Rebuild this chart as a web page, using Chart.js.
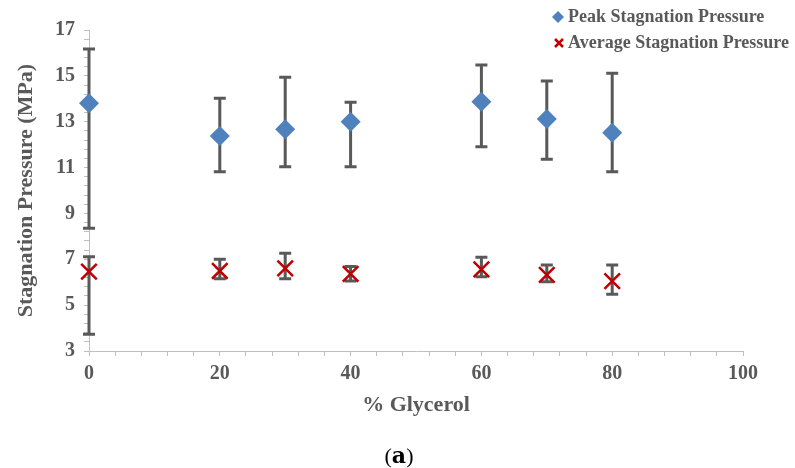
<!DOCTYPE html>
<html>
<head>
<meta charset="utf-8">
<script src="https://cdn.jsdelivr.net/npm/chart.js@4.4.0/dist/chart.umd.min.js"></script>
<style>
  html, body { margin: 0; padding: 0; background: #fff; }
  #wrap { width: 795px; height: 468px; }
</style>
</head>
<body>
<div id="wrap"><canvas id="pressureChart" width="795" height="468"></canvas></div>
<script>
// % glycerol in the mixture
const glycerol = [0, 20, 30, 40, 60, 70, 80];

// Peak stagnation pressure (MPa) with error bar limits
const peakMean = [13.8, 12.38, 12.67, 13.0, 13.87, 13.12, 12.52];
const peakLow = [8.35, 10.82, 11.04, 11.04, 11.91, 11.36, 10.82];
const peakHigh = [16.17, 14.02, 14.94, 13.85, 15.47, 14.78, 15.11];

// Average stagnation pressure (MPa) with error bar limits
const avgMean = [6.46, 6.49, 6.6, 6.36, 6.56, 6.32, 6.05];
const avgLow = [3.73, 6.15, 6.15, 6.05, 6.24, 6.02, 5.47];
const avgHigh = [7.11, 7.0, 7.26, 6.68, 7.09, 6.75, 6.75];

// axis ranges: labelled every major step, minor tick marks in between
const xRange = [0, 100], xMajor = 20, xMinor = 4;
const yRange = [3, 17], yMajor = 2, yMinor = 0.4;

const textGray = '#595959';
const lineGray = '#bfbfbf';
const serif = "'Liberation Serif', 'Times New Roman', serif";

function tickList(range, step) {
  const out = [];
  const n = Math.round((range[1] - range[0]) / step);
  for (let i = 0; i <= n; i++) out.push({ value: +(range[0] + i * step).toFixed(4) });
  return out;
}

function isMajor(v, range, major) {
  const k = (v - range[0]) / major;
  return Math.abs(k - Math.round(k)) < 1e-6;
}

// vertical error bars with caps, drawn under the markers
const errorBars = {
  id: 'errorBars',
  beforeDatasetsDraw(chart) {
    const { ctx, scales: { x, y } } = chart;
    const sets = [[peakLow, peakHigh], [avgLow, avgHigh]];
    ctx.save();
    ctx.strokeStyle = textGray;
    ctx.lineWidth = 3;
    ctx.lineCap = 'butt';
    sets.forEach(([lo, hi]) => {
      glycerol.forEach((g, i) => {
        const px = x.getPixelForValue(g);
        const y1 = y.getPixelForValue(lo[i]);
        const y2 = y.getPixelForValue(hi[i]);
        ctx.beginPath();
        ctx.moveTo(px, y1); ctx.lineTo(px, y2);
        ctx.moveTo(px - 6, y1); ctx.lineTo(px + 6, y1);
        ctx.moveTo(px - 6, y2); ctx.lineTo(px + 6, y2);
        ctx.stroke();
      });
    });
    ctx.restore();
  }
};

// legend box at the top right and the panel label underneath
const extras = {
  id: 'extras',
  afterDraw(chart) {
    const { ctx } = chart;
    ctx.save();
    ctx.font = 'bold 18px ' + serif;
    ctx.fillStyle = textGray;
    ctx.textBaseline = 'middle';
    ctx.textAlign = 'left';

    // diamond
    const d = chart.data.datasets[0];
    ctx.fillStyle = d.backgroundColor;
    ctx.beginPath();
    ctx.moveTo(558, 11); ctx.lineTo(564, 17); ctx.lineTo(558, 23); ctx.lineTo(552, 17);
    ctx.closePath(); ctx.fill();
    ctx.fillStyle = textGray;
    ctx.fillText(d.label, 568, 17);

    // cross
    const a = chart.data.datasets[1];
    ctx.strokeStyle = a.borderColor;
    ctx.lineWidth = 2.5;
    ctx.beginPath();
    ctx.moveTo(555, 39); ctx.lineTo(563, 47);
    ctx.moveTo(563, 39); ctx.lineTo(555, 47);
    ctx.stroke();
    ctx.fillText(a.label, 568, 43);

    // (a)
    ctx.fillStyle = '#000';
    ctx.textBaseline = 'alphabetic';
    const open = '(', close = ')';
    ctx.font = "22px 'Liberation Serif', serif";
    const wOpen = ctx.measureText(open).width;
    const wClose = ctx.measureText(close).width;
    ctx.font = "bold 22px 'DejaVu Serif', serif";
    const wA = ctx.measureText('a').width;
    const sx = 399 - (wOpen + wA + wClose) / 2;
    const base = 463;
    ctx.font = "22px 'Liberation Serif', serif";
    ctx.fillText(open, sx, base);
    ctx.fillText(close, sx + wOpen + wA, base);
    ctx.font = "bold 22px 'DejaVu Serif', serif";
    ctx.fillText('a', sx + wOpen, base);
    ctx.restore();
  }
};

const toPoints = vals => glycerol.map((g, i) => ({ x: g, y: vals[i] }));

new Chart(document.getElementById('pressureChart'), {
  type: 'scatter',
  data: {
    datasets: [
      {
        label: 'Peak Stagnation Pressure',
        data: toPoints(peakMean),
        pointStyle: 'rectRot',
        pointRadius: 10,
        pointHoverRadius: 10,
        backgroundColor: '#4f81bd',
        borderColor: '#4f81bd',
        borderWidth: 0,
        clip: false
      },
      {
        label: 'Average Stagnation Pressure',
        data: toPoints(avgMean),
        pointStyle: 'crossRot',
        pointRadius: 11,
        pointHoverRadius: 11,
        backgroundColor: '#c00000',
        borderColor: '#c00000',
        borderWidth: 2.5,
        clip: false
      }
    ]
  },
  options: {
    responsive: false,
    animation: false,
    devicePixelRatio: 1,
    layout: { padding: { left: 0, right: 52, top: 30, bottom: 0 } },
    plugins: {
      legend: { display: false },
      tooltip: { enabled: false }
    },
    scales: {
      x: {
        type: 'linear',
        min: xRange[0],
        max: xRange[1],
        afterBuildTicks: s => { s.ticks = tickList(xRange, xMinor); },
        afterFit: s => { s.height = 117; },
        grid: { drawOnChartArea: false, color: lineGray, tickLength: 5 },
        border: { color: lineGray },
        ticks: {
          autoSkip: false,
          maxRotation: 0,
          padding: 6,
          color: textGray,
          font: { family: serif, size: 20, weight: 'bold' },
          callback: v => isMajor(v, xRange, xMajor) ? String(Math.round(v)) : ''
        },
        title: {
          display: true,
          text: '% Glycerol',
          color: textGray,
          font: { family: serif, size: 22, weight: 'bold' },
          padding: { top: 0, bottom: 49 }
        }
      },
      y: {
        min: yRange[0],
        max: yRange[1],
        afterBuildTicks: s => { s.ticks = tickList(yRange, yMinor); },
        afterFit: s => { s.width = 89; },
        grid: { drawOnChartArea: false, color: lineGray, tickLength: 5 },
        border: { color: lineGray },
        ticks: {
          autoSkip: false,
          padding: 9,
          color: textGray,
          font: { family: serif, size: 20, weight: 'bold' },
          callback: v => isMajor(v, yRange, yMajor) ? String(Math.round(v)) : ''
        },
        title: {
          display: true,
          text: 'Stagnation Pressure (MPa)',
          color: textGray,
          font: { family: serif, size: 22, weight: 'bold' },
          padding: { top: 13, bottom: 0 }
        }
      }
    }
  },
  plugins: [errorBars, extras]
});
</script>
</body>
</html>
